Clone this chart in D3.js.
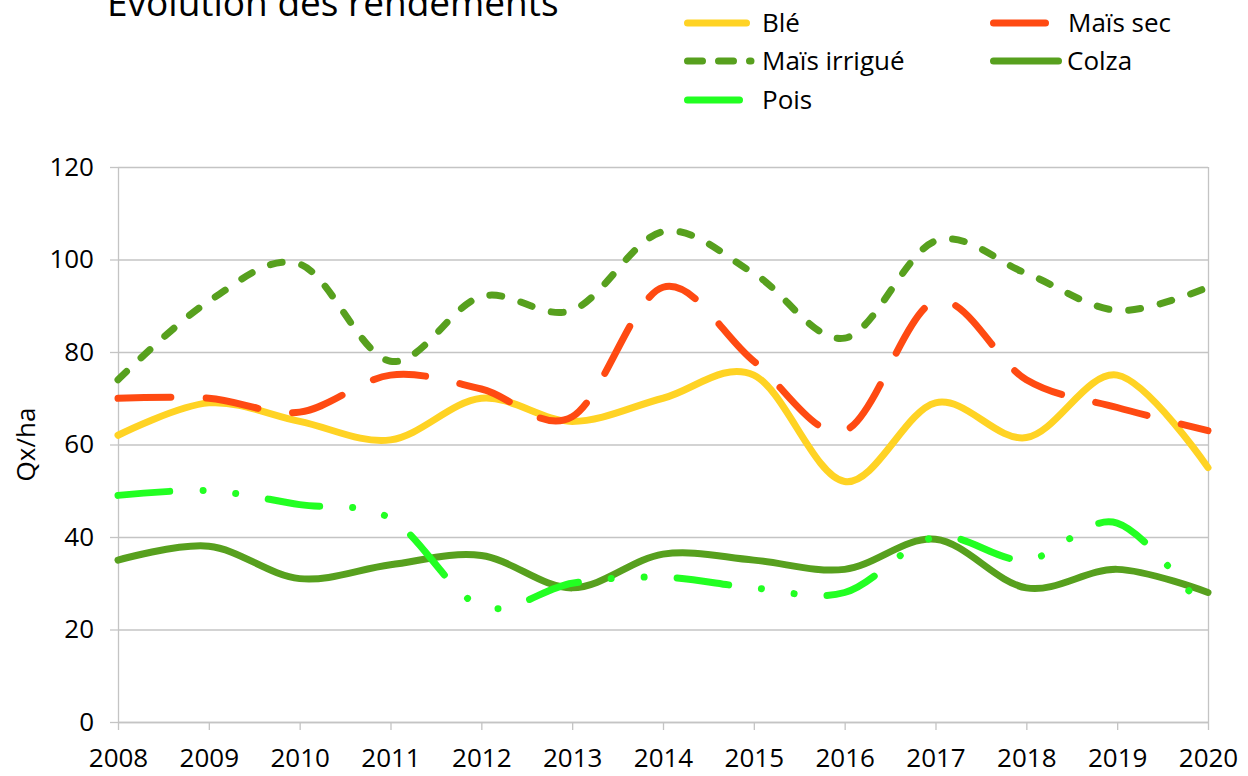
<!DOCTYPE html>
<html>
<head>
<meta charset="utf-8">
<script src="https://cdn.jsdelivr.net/npm/d3@7"></script>
<style>
  body { margin: 0; background: #fff; }
  text { font-family: "Open Sans", "Noto Sans", sans-serif; fill: #000; }
</style>
</head>
<body>
<div id="vis-container"></div>
<script>
// data (Qx/ha per year)
var years = [2008, 2009, 2010, 2011, 2012, 2013, 2014, 2015, 2016, 2017, 2018, 2019, 2020];
var ble         = [62, 69, 65, 61, 70, 65, 70, 75, 52, 69, 61.5, 75, 55];
var maisSec     = [70, 70, 67, 75, 72, 66, 94, 78, 63, 91, 74, 68, 63];
var maisIrrigue = [74, 91, 99, 78, 92, 89, 106, 97, 83, 104, 97, 89, 94];
var colza       = [35, 38, 31, 34, 36, 29, 36.3, 35, 33, 39.5, 29, 33, 28];
var pois        = [49, 50, 47, 44, 25, 30, 31.3, 29, 28, 40, 35, 43, 23];
var yTicks = [0, 20, 40, 60, 80, 100, 120];

// legend keys of the long-dash series are shorter than one dash, so they show solid
var series = [
    { name: "Blé", values: ble, color: "#FFD324", dash: null, legendDash: null },
    { name: "Maïs sec", values: maisSec, color: "#FF4A12", dash: "53 35", legendDash: null },
    { name: "Maïs irrigué", values: maisIrrigue, color: "#57A01E", dash: "12 20", legendDash: "15 16" },
    { name: "Colza", values: colza, color: "#57A01E", dash: null, legendDash: null },
    { name: "Pois", values: pois, color: "#22FF22", dash: "52 33 0.01 33 0.01 33", legendDash: null }
];

var width = 1248;
var height = 776;
var margins = { top: 167, right: 40, bottom: 54, left: 118 };
var visWidth = width - margins.left - margins.right;
var visHeight = height - margins.top - margins.bottom;
var gridColor = "#C4C4C4";

var svg = d3.select("#vis-container").append("svg")
    .attr("width", width).attr("height", height);
svg.append("rect").attr("width", width).attr("height", height).attr("fill", "#fff");

var viewport = svg.append("g")
    .attr("transform", "translate(" + margins.left + "," + margins.top + ")");

var xScale = d3.scaleLinear().domain([2008, 2020]).range([0, visWidth]);
var yScale = d3.scaleLinear().domain([0, 120]).range([visHeight, 0]);

// gridlines
viewport.append("g").selectAll("line")
    .data(yTicks).enter().append("line")
    .attr("x1", 0).attr("x2", visWidth)
    .attr("y1", d => yScale(d) + 0.5).attr("y2", d => yScale(d) + 0.5)
    .attr("stroke", gridColor).attr("stroke-width", 1.3);

// right border of plot area
viewport.append("line")
    .attr("x1", visWidth + 0.5).attr("x2", visWidth + 0.5)
    .attr("y1", 0).attr("y2", visHeight)
    .attr("stroke", gridColor).attr("stroke-width", 1.3);

// axes
var yAxisG = viewport.append("g")
    .call(d3.axisLeft(yScale).tickValues(yTicks).tickSize(8).tickPadding(16).tickSizeOuter(0));
var xAxisG = viewport.append("g")
    .attr("transform", "translate(0," + visHeight + ")")
    .call(d3.axisBottom(xScale).tickValues(years).tickFormat(d3.format("d"))
        .tickSize(8).tickPadding(19).tickSizeOuter(0));

[yAxisG, xAxisG].forEach(g => {
    g.selectAll("path, line").attr("stroke", gridColor).attr("stroke-width", 1.3);
    g.selectAll("text").attr("font-size", 26).attr("fill", "#000")
        .style("font-family", "'Open Sans', sans-serif");
});

// y axis title
svg.append("text")
    .text("Qx/ha")
    .attr("transform", "translate(35," + (margins.top + visHeight / 2) + ") rotate(-90)")
    .attr("text-anchor", "middle")
    .attr("font-size", 26);

// lines (Excel-style smoothing)
var lineGen = d3.line()
    .x((d, i) => xScale(years[i]))
    .y(d => yScale(d))
    .curve(d3.curveCatmullRom.alpha(0));

var linesG = viewport.append("g");
series.forEach(s => {
    linesG.append("path")
        .attr("d", lineGen(s.values))
        .attr("fill", "none")
        .attr("stroke", s.color)
        .attr("stroke-width", 7)
        .attr("stroke-linecap", "round")
        .attr("stroke-linejoin", "round")
        .attr("stroke-dasharray", s.dash);
});

// title
svg.append("text")
    .text("Evolution des rendements")
    .attr("x", 107).attr("y", 16)
    .attr("font-size", 37);

// legend (two columns, row-major)
var legendCols = [687.5, 993.5];
var legendRows = [23, 61, 100];
var legendLineLen = [59, 52, 63.5, 65, 52];
var legendTextX = [762, 1068];

series.forEach((s, i) => {
    var col = i % 2;
    var row = Math.floor(i / 2);
    var lx = legendCols[col];
    var ly = legendRows[row];
    svg.append("line")
        .attr("x1", lx).attr("x2", lx + legendLineLen[i])
        .attr("y1", ly).attr("y2", ly)
        .attr("stroke", s.color)
        .attr("stroke-width", 7)
        .attr("stroke-linecap", "round")
        .attr("stroke-dasharray", s.legendDash);
    svg.append("text")
        .text(s.name)
        .attr("x", legendTextX[col] - (i === 3 ? 1 : 0))
        .attr("y", ly)
        .attr("dy", "0.35em")
        .attr("font-size", 26);
});
</script>
</body>
</html>
